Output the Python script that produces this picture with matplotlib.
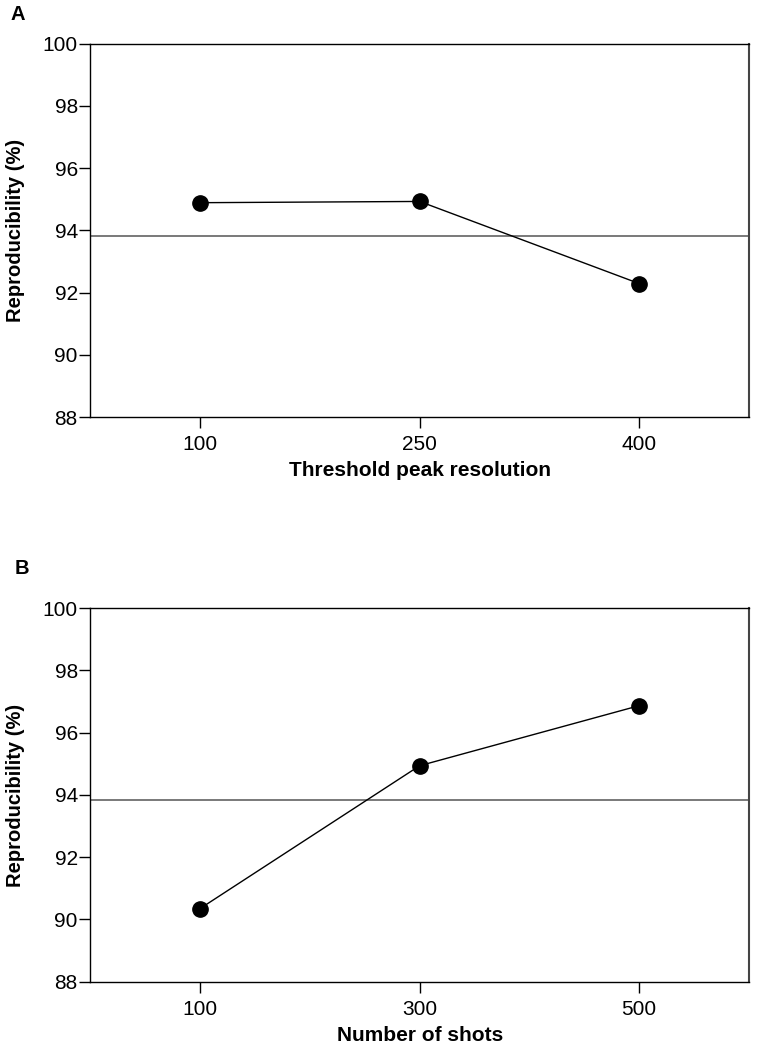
import matplotlib
matplotlib.use("Agg")
import matplotlib.pyplot as plt

plt.rcParams['font.family'] = ['Liberation Sans', 'DejaVu Sans']

# Panel A data
a_categories = ["100", "250", "400"]
a_values = [94.89, 94.93, 92.29]
a_mean = 93.83
a_xlabel = "Threshold peak resolution"

# Panel B data
b_categories = ["100", "300", "500"]
b_values = [90.35, 94.94, 96.87]
b_mean = 93.85
b_xlabel = "Number of shots"

y_ticks = [88, 90, 92, 94, 96, 98, 100]
y_label = "Reproducibility (%)"

fig = plt.figure(figsize=(7.57, 10.46), dpi=100)
axA = fig.add_axes([0.1193, 0.6013, 0.8701, 0.3569])
axB = fig.add_axes([0.1193, 0.0615, 0.8701, 0.3570])

def draw(ax, cats, vals, mean, xlabel):
    xs = list(range(len(cats)))
    ax.axhline(mean, color="#555555", lw=1.1, zorder=1)
    ax.plot(xs, vals, color="black", lw=1.0, marker="o", markersize=11,
            markerfacecolor="black", markeredgecolor="black", zorder=3)
    ax.set_xlim(-0.5, 2.5)
    ax.set_ylim(88, 100)
    ax.set_yticks(y_ticks)
    ax.set_xticks(xs)
    ax.set_xticklabels(cats)
    ax.tick_params(axis="both", direction="out", length=8, width=1,
                   labelsize=15, colors="black")
    ax.tick_params(axis="y", pad=1)
    ax.tick_params(axis="x", pad=5)
    ax.set_xlabel(xlabel, fontsize=15, fontweight="bold", labelpad=5)
    ax.set_ylabel(y_label, fontsize=14.5, fontweight="bold", labelpad=13)
    for s in ["left", "bottom", "top"]:
        ax.spines[s].set_color("black")
        ax.spines[s].set_linewidth(1.0)
    ax.spines["right"].set_color("#444444")
    ax.spines["right"].set_linewidth(1.5)

draw(axA, a_categories, a_values, a_mean, a_xlabel)
draw(axB, b_categories, b_values, b_mean, b_xlabel)

fig.text(17.5 / 757, 1 - 15 / 1046, "A", fontsize=14.5, fontweight="bold",
         ha="center", va="center")
fig.text(22 / 757, 1 - 569 / 1046, "B", fontsize=14.5, fontweight="bold",
         ha="center", va="center")

fig.savefig("out.png", dpi=100)
